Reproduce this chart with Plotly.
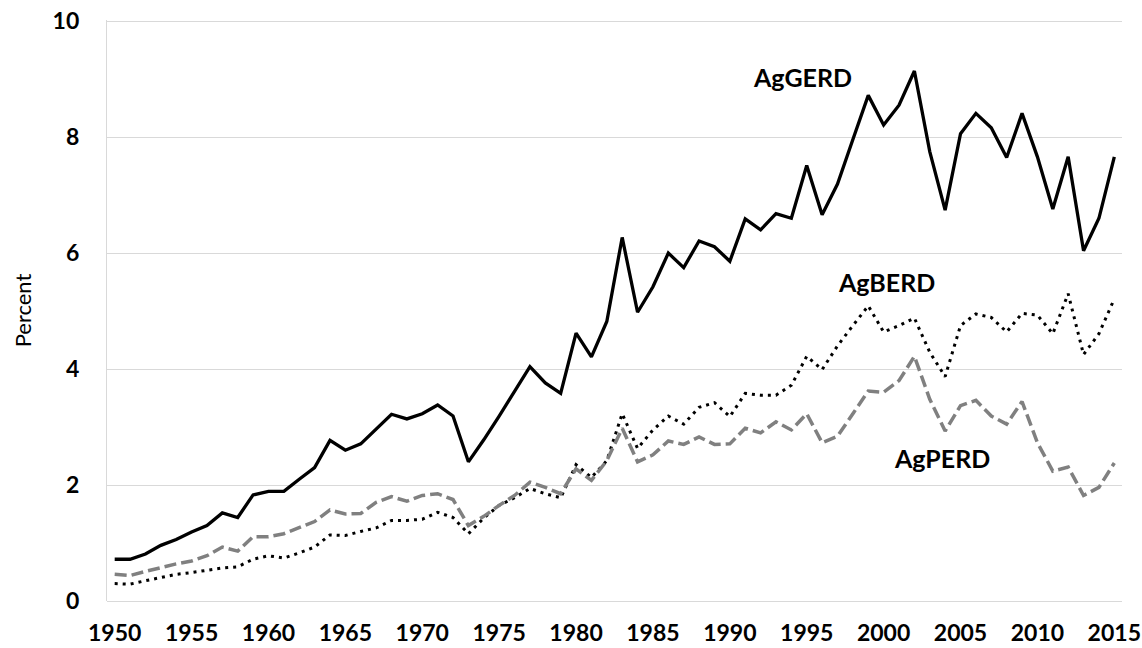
import plotly.graph_objects as go

years = list(range(1950, 2016))

ag_gerd = [0.72, 0.72, 0.81, 0.96, 1.06, 1.19, 1.30, 1.52, 1.44, 1.83,
           1.89, 1.89, 2.10, 2.30, 2.77, 2.60, 2.71, 2.96, 3.22, 3.14,
           3.23, 3.38, 3.19, 2.40, 2.78, 3.19, 3.62, 4.04, 3.76, 3.58,
           4.62, 4.21, 4.82, 6.27, 4.98, 5.42, 6.00, 5.75, 6.21, 6.11,
           5.86, 6.59, 6.40, 6.68, 6.60, 7.51, 6.66, 7.19, 7.96, 8.72,
           8.21, 8.55, 9.14, 7.75, 6.74, 8.06, 8.41, 8.16, 7.65, 8.41,
           7.66, 6.76, 7.66, 6.04, 6.60, 7.66]

ag_berd = [0.30, 0.29, 0.35, 0.40, 0.46, 0.49, 0.53, 0.57, 0.59, 0.72,
           0.78, 0.74, 0.83, 0.93, 1.14, 1.13, 1.20, 1.26, 1.39, 1.39,
           1.41, 1.53, 1.44, 1.16, 1.43, 1.65, 1.78, 1.94, 1.85, 1.78,
           2.35, 2.13, 2.42, 3.23, 2.63, 2.95, 3.19, 3.05, 3.34, 3.42,
           3.18, 3.58, 3.55, 3.55, 3.72, 4.22, 3.99, 4.40, 4.75, 5.09,
           4.64, 4.75, 4.88, 4.29, 3.87, 4.75, 4.95, 4.89, 4.64, 4.96,
           4.93, 4.61, 5.30, 4.25, 4.61, 5.21]

ag_perd = [0.46, 0.44, 0.51, 0.58, 0.64, 0.69, 0.78, 0.93, 0.86, 1.11,
           1.11, 1.16, 1.27, 1.37, 1.57, 1.50, 1.51, 1.70, 1.80, 1.72,
           1.82, 1.85, 1.75, 1.30, 1.46, 1.65, 1.82, 2.05, 1.96, 1.85,
           2.28, 2.08, 2.42, 2.98, 2.40, 2.52, 2.76, 2.70, 2.83, 2.70,
           2.71, 2.98, 2.90, 3.09, 2.95, 3.23, 2.73, 2.84, 3.23, 3.62,
           3.60, 3.80, 4.22, 3.48, 2.93, 3.37, 3.46, 3.19, 3.05, 3.44,
           2.73, 2.24, 2.31, 1.82, 1.96, 2.38]

x_ticks = list(range(1950, 2016, 5))
y_ticks = [0, 2, 4, 6, 8, 10]

labels = ["AgGERD", "AgBERD", "AgPERD"]
label_x = [1994.7, 2000.2, 2003.8]
label_y = [9.04, 5.50, 2.46]

FONT = "Lato"

fig = go.Figure()
fig.add_trace(go.Scatter(x=years, y=ag_gerd, mode="lines", name="AgGERD",
                         line=dict(color="black", width=3.3)))
fig.add_trace(go.Scatter(x=years, y=ag_berd, mode="lines", name="AgBERD",
                         line=dict(color="black", width=3, dash="3px,5px")))
fig.add_trace(go.Scatter(x=years, y=ag_perd, mode="lines", name="AgPERD",
                         line=dict(color="#808080", width=3.5, dash="12px,5px")))

for t, xv, yv in zip(labels, label_x, label_y):
    fig.add_annotation(x=xv, y=yv, xref="x", yref="y", text="<b>%s</b>" % t,
                       showarrow=False, font=dict(family=FONT, size=25, color="black"))

fig.update_layout(
    width=1142, height=648,
    margin=dict(l=107, r=20, t=20, b=47),
    paper_bgcolor="white", plot_bgcolor="white",
    showlegend=False,
    font=dict(family=FONT, color="black"),
)
fig.update_xaxes(
    range=[1949.5, 2015.5], tickvals=x_ticks,
    ticktext=["<b>%d</b>" % v for v in x_ticks],
    tickfont=dict(family=FONT, size=23, color="black"),
    showgrid=False, zeroline=False, ticks="", ticklabelstandoff=16,
    showline=False, automargin=False,
)
fig.update_yaxes(
    range=[0, 10.02], tickvals=y_ticks,
    ticktext=["<b>%d</b>" % v for v in y_ticks],
    tickfont=dict(family=FONT, size=23, color="black"),
    showgrid=True, gridcolor="#d9d9d9", gridwidth=1.3,
    zeroline=True, zerolinecolor="#d9d9d9", zerolinewidth=1.3,
    showline=True, linecolor="#d9d9d9", linewidth=1.3,
    ticks="", ticklabelstandoff=22, automargin=False,
    title=dict(text="Percent", font=dict(family=FONT, size=22, color="black"), standoff=14),
)

fig.write_html("out.html", config={"displayModeBar": False},
               post_script="document.body.style.margin='0';document.body.style.overflow='hidden';")
